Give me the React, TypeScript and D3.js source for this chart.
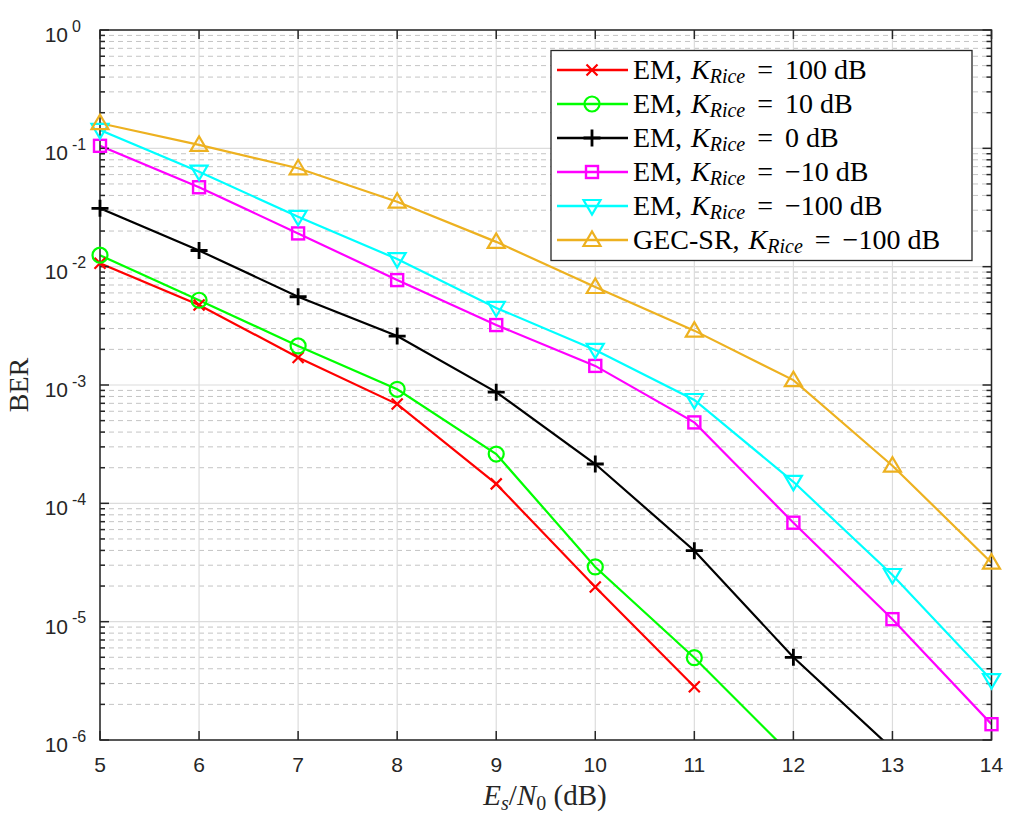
import React from "react";
import * as d3 from "d3";

const snr = [5, 6, 7, 8, 9, 10, 11, 12, 13, 14];
const berEM100 = [1.07e-2, 4.74e-3, 1.71e-3, 6.9e-4, 1.46e-4, 1.96e-5, 2.82e-6];
const berEM10 = [1.25e-2, 5.2e-3, 2.14e-3, 9.2e-4, 2.61e-4, 2.9e-5, 4.96e-6, 7.2e-7];
const berEM0 = [3.11e-2, 1.37e-2, 5.57e-3, 2.59e-3, 8.7e-4, 2.15e-4, 3.98e-5, 5.0e-6, 8.4e-7];
const berEMm10 = [0.105, 4.69e-2, 1.91e-2, 7.7e-3, 3.21e-3, 1.45e-3, 4.83e-4, 6.86e-5, 1.05e-5, 1.36e-6];
const berEMm100 = [0.143, 6.35e-2, 2.64e-2, 1.16e-2, 4.48e-3, 1.98e-3, 7.47e-4, 1.52e-4, 2.48e-5, 3.21e-6];
const berGEC = [0.163, 0.107, 6.78e-2, 3.54e-2, 1.62e-2, 6.73e-3, 2.88e-3, 1.1e-3, 2.08e-4, 3.15e-5];

const xTicks = [5, 6, 7, 8, 9, 10, 11, 12, 13, 14];
const yDecades = [0, -1, -2, -3, -4, -5, -6];

type Marker = "x" | "o" | "+" | "s" | "v" | "^";
const seriesList: { prefix: string; k: string; color: string; marker: Marker; values: number[] }[] = [
  { prefix: "EM,", k: "100 dB", color: "#ff0000", marker: "x", values: berEM100 },
  { prefix: "EM,", k: "10 dB", color: "#00ff00", marker: "o", values: berEM10 },
  { prefix: "EM,", k: "0 dB", color: "#000000", marker: "+", values: berEM0 },
  { prefix: "EM,", k: "\u221210 dB", color: "#ff00ff", marker: "s", values: berEMm10 },
  { prefix: "EM,", k: "\u2212100 dB", color: "#00ffff", marker: "v", values: berEMm100 },
  { prefix: "GEC-SR,", k: "\u2212100 dB", color: "#EDB120", marker: "^", values: berGEC },
];

const W = 1021;
const H = 822;
const left = 100, right = 991.5, top = 30, bottom = 740;
const axisColor = "#262626";

function MarkerShape({ type, x, y, color }: { type: Marker; x: number; y: number; color: string }) {
  const sw = 2.2;
  switch (type) {
    case "x":
      return (
        <path d={`M${x - 5.5},${y - 5.5}L${x + 5.5},${y + 5.5}M${x - 5.5},${y + 5.5}L${x + 5.5},${y - 5.5}`} stroke={color} strokeWidth={sw} fill="none" />
      );
    case "o":
      return <circle cx={x} cy={y} r={7.5} stroke={color} strokeWidth={sw} fill="none" />;
    case "+":
      return (
        <path d={`M${x - 8.5},${y}L${x + 8.5},${y}M${x},${y - 8.5}L${x},${y + 8.5}`} stroke={color} strokeWidth={2.8} fill="none" />
      );
    case "s":
      return <rect x={x - 6} y={y - 6} width={12} height={12} stroke={color} strokeWidth={2.4} fill="none" />;
    case "v":
      return (
        <path d={`M${x - 8.5},${y - 6}L${x + 8.5},${y - 6}L${x},${y + 8.5}Z`} stroke={color} strokeWidth={sw} fill="none" />
      );
    case "^":
      return (
        <path d={`M${x - 8.5},${y + 6}L${x + 8.5},${y + 6}L${x},${y - 8.5}Z`} stroke={color} strokeWidth={sw} fill="none" />
      );
  }
}

export default function App() {
  const x = d3.scaleLinear().domain([5, 14]).range([left, right]);
  const y = d3.scaleLog().domain([1e-6, 1]).range([bottom, top]);

  const minorVals: number[] = [];
  for (let e = -6; e < 0; e++) {
    for (let m = 2; m <= 9; m++) minorVals.push(m * Math.pow(10, e));
  }

  const line = d3
    .line<number>()
    .x((_, i) => x(snr[i]))
    .y((d) => y(d));

  const legX = 551, legY = 50.5, legW = 421, legH = 210;
  const rowH = 34;
  const tickFont = "'Liberation Sans', Arial, sans-serif";
  const serif = "'Liberation Serif', 'Times New Roman', serif";

  return (
    <svg width={W} height={H} style={{ display: "block", position: "absolute", left: 0, top: 0 }}>
      <defs>
        <clipPath id="plotclip">
          <rect x={left} y={top} width={right - left} height={bottom - top} />
        </clipPath>
      </defs>
      <rect x={0} y={0} width={W} height={H} fill="#fff" />
      {/* grid */}
      {minorVals.map((v, i) => (
        <line key={"mg" + i} x1={left} x2={right} y1={y(v)} y2={y(v)} stroke="#c4c4c4" strokeWidth={1} strokeDasharray="5,4" />
      ))}
      {yDecades.map((e) => (
        <line key={"Mg" + e} x1={left} x2={right} y1={y(Math.pow(10, e))} y2={y(Math.pow(10, e))} stroke="#dcdcdc" strokeWidth={1.2} />
      ))}
      {xTicks.map((t) => (
        <line key={"xg" + t} x1={x(t)} x2={x(t)} y1={top} y2={bottom} stroke="#dcdcdc" strokeWidth={1.2} />
      ))}
      {/* series lines (clipped) */}
      <g clipPath="url(#plotclip)">
        {seriesList.map((s, si) => (
          <path key={"l" + si} d={line(s.values) || ""} fill="none" stroke={s.color} strokeWidth={2.2} />
        ))}
      </g>
      {/* axes box */}
      <rect x={left} y={top} width={right - left} height={bottom - top} fill="none" stroke={axisColor} strokeWidth={1.5} />
      {/* ticks */}
      {xTicks.map((t) => (
        <g key={"xt" + t}>
          <line x1={x(t)} x2={x(t)} y1={bottom} y2={bottom - 9} stroke={axisColor} strokeWidth={1.5} />
          <line x1={x(t)} x2={x(t)} y1={top} y2={top + 9} stroke={axisColor} strokeWidth={1.5} />
          <text x={x(t)} y={772} textAnchor="middle" fontFamily={tickFont} fontSize={21} fill={axisColor}>
            {t}
          </text>
        </g>
      ))}
      {yDecades.map((e) => (
        <g key={"yt" + e}>
          <line x1={left} x2={left + 9} y1={y(Math.pow(10, e))} y2={y(Math.pow(10, e))} stroke={axisColor} strokeWidth={1.5} />
          <line x1={right} x2={right - 9} y1={y(Math.pow(10, e))} y2={y(Math.pow(10, e))} stroke={axisColor} strokeWidth={1.5} />
          <text x={68} y={y(Math.pow(10, e)) + 12} textAnchor="end" fontFamily={tickFont} fontSize={21} fill={axisColor}>
            10
          </text>
          <text x={72} y={y(Math.pow(10, e)) + 1.5} textAnchor="start" fontFamily={tickFont} fontSize={16} fill={axisColor}>
            {e === 0 ? "0" : "-" + Math.abs(e)}
          </text>
        </g>
      ))}
      {minorVals.map((v, i) => (
        <g key={"mt" + i}>
          <line x1={left} x2={left + 5} y1={y(v)} y2={y(v)} stroke={axisColor} strokeWidth={1.5} />
          <line x1={right} x2={right - 5} y1={y(v)} y2={y(v)} stroke={axisColor} strokeWidth={1.5} />
        </g>
      ))}
      {/* markers (not clipped, only in-range points) */}
      <g>
        {seriesList.map((s, si) =>
          s.values.map((v, i) =>
            v >= 1e-6 && v <= 1 ? (
              <MarkerShape key={`m${si}-${i}`} type={s.marker} x={x(snr[i])} y={y(v)} color={s.color} />
            ) : null
          )
        )}
      </g>
      {/* axis labels */}
      <text x={545} y={805} textAnchor="middle" fontFamily={serif} fontSize={29} fill={axisColor}>
        <tspan fontStyle="italic">E</tspan>
        <tspan fontStyle="italic" fontSize={20} dy={5}>s</tspan>
        <tspan dy={-5}>/</tspan>
        <tspan fontStyle="italic">N</tspan>
        <tspan fontSize={20} dy={5}>0</tspan>
        <tspan dy={-5}>{"\u00a0(dB)"}</tspan>
      </text>
      <text transform="translate(28,385) rotate(-90)" textAnchor="middle" fontFamily={serif} fontSize={28} fill={axisColor}>
        BER
      </text>
      {/* legend */}
      <rect x={legX} y={legY} width={legW} height={legH} fill="#fff" stroke={axisColor} strokeWidth={1.3} />
      {seriesList.map((s, i) => {
        const cy = legY + 19.5 + i * rowH;
        return (
          <g key={"lg" + i}>
            <line x1={557} x2={628} y1={cy} y2={cy} stroke={s.color} strokeWidth={2.4} />
            <MarkerShape type={s.marker} x={592} y={cy} color={s.color} />
            <text x={633} y={cy + 9} fontFamily={serif} fontSize={28} fill="#000">
              <tspan>{s.prefix}</tspan>
              <tspan dx={9} fontStyle="italic">K</tspan>
              <tspan fontStyle="italic" fontSize={20} dy={4}>Rice</tspan>
              <tspan dy={-4} dx={12}>=</tspan>
              <tspan dx={12}>{s.k}</tspan>
            </text>
          </g>
        );
      })}
    </svg>
  );
}
